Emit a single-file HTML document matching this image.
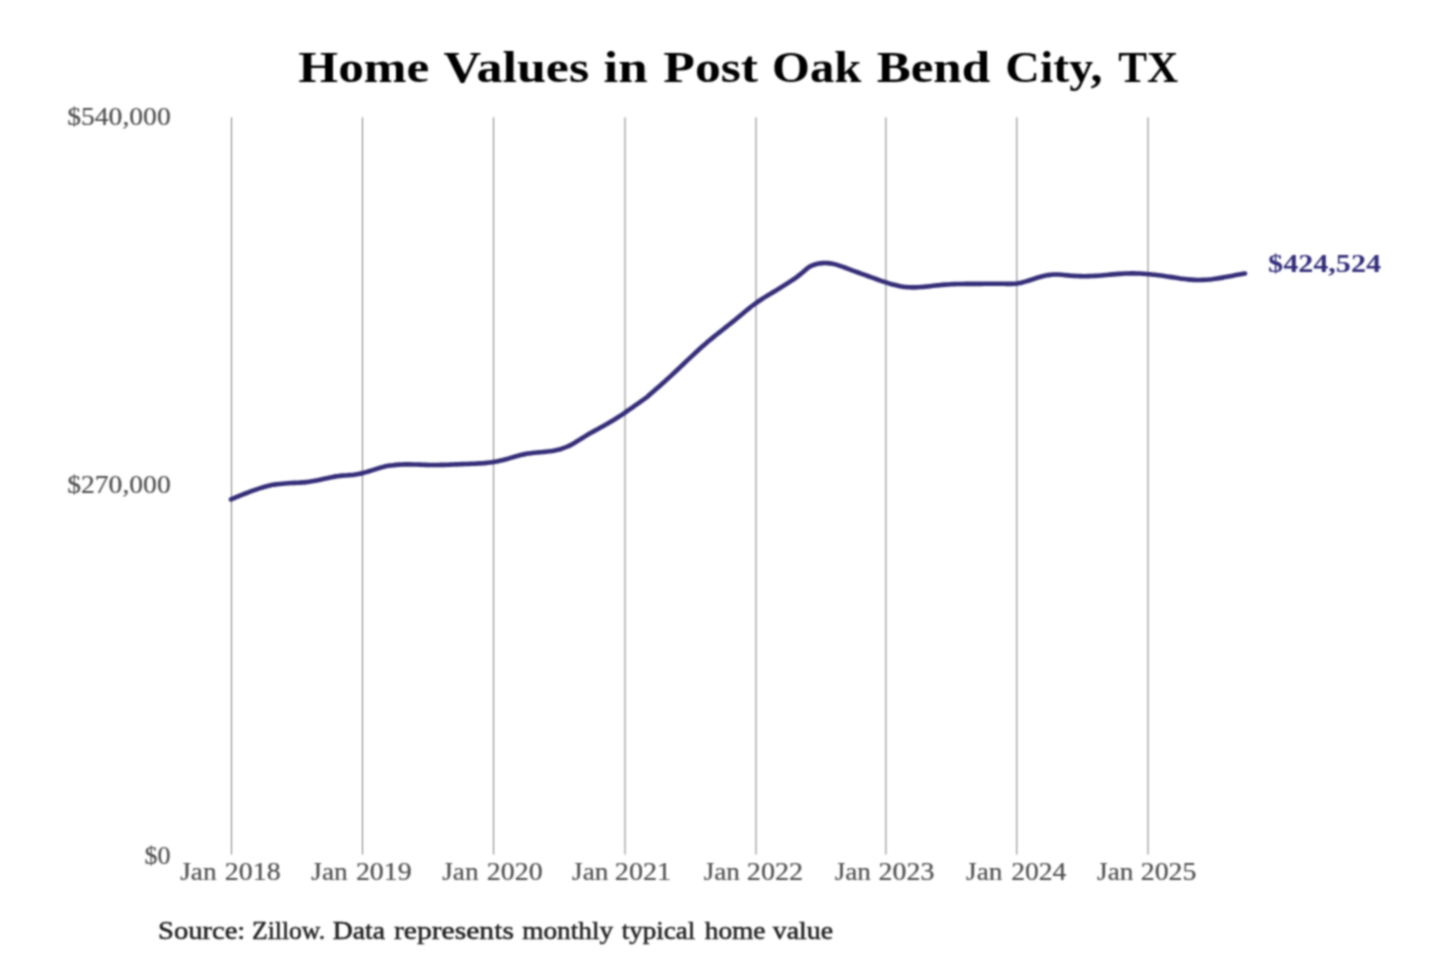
<!DOCTYPE html>
<html><head><meta charset="utf-8"><style>
html,body{margin:0;padding:0;background:#fff;}
body{width:1440px;height:960px;overflow:hidden;}
svg{display:block;font-family:"Liberation Serif",serif;}
</style></head><body>
<svg width="1440" height="960" viewBox="0 0 1440 960">
<defs><filter id="bl" filterUnits="userSpaceOnUse" x="0" y="0" width="1440" height="960" color-interpolation-filters="sRGB"><feConvolveMatrix order="5" kernelMatrix="0.00228 0.01161 0.01997 0.01161 0.00228 0.01161 0.05911 0.10169 0.05911 0.01161 0.01997 0.10169 0.17494 0.10169 0.01997 0.01161 0.05911 0.10169 0.05911 0.01161 0.00228 0.01161 0.01997 0.01161 0.00228" edgeMode="duplicate" preserveAlpha="true"/></filter></defs>
<g filter="url(#bl)">
<rect width="1440" height="960" fill="#fff"/>
<g stroke="#808080" stroke-width="1.0">
<line x1="231.5" y1="117.3" x2="231.5" y2="854.6"/>
<line x1="362.5" y1="117.3" x2="362.5" y2="854.6"/>
<line x1="493.6" y1="117.3" x2="493.6" y2="854.6"/>
<line x1="625.0" y1="117.3" x2="625.0" y2="854.6"/>
<line x1="756.0" y1="117.3" x2="756.0" y2="854.6"/>
<line x1="885.9" y1="117.3" x2="885.9" y2="854.6"/>
<line x1="1016.8" y1="117.3" x2="1016.8" y2="854.6"/>
<line x1="1148.0" y1="117.3" x2="1148.0" y2="854.6"/>
</g>
<path d="M231.00,499.32 C231.50,499.12 233.00,498.51 234.00,498.11 C235.00,497.71 236.00,497.30 237.00,496.89 C238.00,496.48 239.00,496.07 240.00,495.66 C241.00,495.25 242.00,494.85 243.00,494.45 C244.00,494.05 245.00,493.65 246.00,493.25 C247.00,492.85 248.00,492.45 249.00,492.07 C250.00,491.69 251.00,491.31 252.00,490.94 C253.00,490.57 254.00,490.20 255.00,489.85 C256.00,489.50 257.00,489.15 258.00,488.82 C259.00,488.49 260.00,488.17 261.00,487.86 C262.00,487.55 263.00,487.25 264.00,486.97 C265.00,486.69 266.00,486.42 267.00,486.17 C268.00,485.92 269.00,485.68 270.00,485.46 C271.00,485.24 272.00,485.04 273.00,484.86 C274.00,484.68 275.00,484.52 276.00,484.38 C277.00,484.24 278.00,484.11 279.00,483.99 C280.00,483.87 281.00,483.77 282.00,483.68 C283.00,483.59 284.00,483.50 285.00,483.43 C286.00,483.36 287.00,483.30 288.00,483.24 C289.00,483.18 290.00,483.12 291.00,483.07 C292.00,483.02 293.00,482.97 294.00,482.92 C295.00,482.87 296.00,482.81 297.00,482.76 C298.00,482.70 299.00,482.65 300.00,482.59 C301.00,482.52 302.00,482.45 303.00,482.37 C304.00,482.29 305.00,482.20 306.00,482.10 C307.00,482.00 308.00,481.89 309.00,481.76 C310.00,481.63 311.00,481.49 312.00,481.33 C313.00,481.17 314.00,480.99 315.00,480.80 C316.00,480.61 317.00,480.40 318.00,480.19 C319.00,479.98 320.00,479.75 321.00,479.53 C322.00,479.30 323.00,479.07 324.00,478.84 C325.00,478.61 326.00,478.38 327.00,478.16 C328.00,477.94 329.00,477.71 330.00,477.50 C331.00,477.29 332.00,477.08 333.00,476.89 C334.00,476.70 335.00,476.52 336.00,476.37 C337.00,476.22 338.00,476.08 339.00,475.96 C340.00,475.84 341.00,475.75 342.00,475.66 C343.00,475.57 344.00,475.50 345.00,475.42 C346.00,475.34 347.00,475.27 348.00,475.20 C349.00,475.12 350.00,475.06 351.00,474.97 C352.00,474.88 353.00,474.79 354.00,474.67 C355.00,474.55 356.00,474.41 357.00,474.25 C358.00,474.09 359.00,473.90 360.00,473.69 C361.00,473.48 362.00,473.24 363.00,472.98 C364.00,472.72 365.00,472.44 366.00,472.15 C367.00,471.86 368.00,471.56 369.00,471.25 C370.00,470.94 371.00,470.62 372.00,470.30 C373.00,469.98 374.00,469.67 375.00,469.35 C376.00,469.04 377.00,468.71 378.00,468.41 C379.00,468.11 380.00,467.82 381.00,467.54 C382.00,467.26 383.00,467.00 384.00,466.76 C385.00,466.52 386.00,466.31 387.00,466.11 C388.00,465.91 389.00,465.74 390.00,465.58 C391.00,465.42 392.00,465.28 393.00,465.16 C394.00,465.04 395.00,464.94 396.00,464.85 C397.00,464.76 398.00,464.68 399.00,464.62 C400.00,464.56 401.00,464.52 402.00,464.48 C403.00,464.44 404.00,464.42 405.00,464.40 C406.00,464.38 407.00,464.38 408.00,464.38 C409.00,464.38 410.00,464.39 411.00,464.41 C412.00,464.43 413.00,464.46 414.00,464.48 C415.00,464.50 416.00,464.53 417.00,464.56 C418.00,464.59 419.00,464.62 420.00,464.66 C421.00,464.70 422.00,464.74 423.00,464.77 C424.00,464.80 425.00,464.83 426.00,464.86 C427.00,464.89 428.00,464.91 429.00,464.93 C430.00,464.95 431.00,464.96 432.00,464.97 C433.00,464.98 434.00,464.98 435.00,464.98 C436.00,464.98 437.00,464.97 438.00,464.96 C439.00,464.95 440.00,464.93 441.00,464.91 C442.00,464.89 443.00,464.87 444.00,464.84 C445.00,464.81 446.00,464.78 447.00,464.75 C448.00,464.72 449.00,464.68 450.00,464.65 C451.00,464.62 452.00,464.58 453.00,464.54 C454.00,464.50 455.00,464.46 456.00,464.42 C457.00,464.38 458.00,464.33 459.00,464.29 C460.00,464.25 461.00,464.21 462.00,464.17 C463.00,464.13 464.00,464.09 465.00,464.05 C466.00,464.01 467.00,463.97 468.00,463.93 C469.00,463.89 470.00,463.86 471.00,463.82 C472.00,463.78 473.00,463.74 474.00,463.70 C475.00,463.66 476.00,463.61 477.00,463.56 C478.00,463.51 479.00,463.45 480.00,463.39 C481.00,463.33 482.00,463.26 483.00,463.18 C484.00,463.10 485.00,463.01 486.00,462.91 C487.00,462.81 488.00,462.71 489.00,462.59 C490.00,462.47 491.00,462.34 492.00,462.20 C493.00,462.06 494.00,461.90 495.00,461.73 C496.00,461.56 497.00,461.37 498.00,461.16 C499.00,460.96 500.00,460.74 501.00,460.50 C502.00,460.26 503.00,460.00 504.00,459.74 C505.00,459.48 506.00,459.20 507.00,458.92 C508.00,458.64 509.00,458.35 510.00,458.06 C511.00,457.77 512.00,457.48 513.00,457.19 C514.00,456.90 515.00,456.61 516.00,456.33 C517.00,456.05 518.00,455.78 519.00,455.52 C520.00,455.26 521.00,455.01 522.00,454.78 C523.00,454.55 524.00,454.33 525.00,454.13 C526.00,453.93 527.00,453.76 528.00,453.60 C529.00,453.44 530.00,453.31 531.00,453.18 C532.00,453.05 533.00,452.94 534.00,452.83 C535.00,452.72 536.00,452.62 537.00,452.53 C538.00,452.43 539.00,452.35 540.00,452.26 C541.00,452.17 542.00,452.09 543.00,451.99 C544.00,451.89 545.00,451.80 546.00,451.69 C547.00,451.58 548.00,451.47 549.00,451.34 C550.00,451.21 551.00,451.08 552.00,450.92 C553.00,450.76 554.00,450.59 555.00,450.39 C556.00,450.19 557.00,449.97 558.00,449.73 C559.00,449.49 560.00,449.23 561.00,448.93 C562.00,448.63 563.00,448.31 564.00,447.94 C565.00,447.57 566.00,447.18 567.00,446.74 C568.00,446.31 569.00,445.84 570.00,445.33 C571.00,444.82 572.00,444.26 573.00,443.70 C574.00,443.13 575.00,442.54 576.00,441.94 C577.00,441.34 578.00,440.71 579.00,440.09 C580.00,439.47 581.00,438.82 582.00,438.20 C583.00,437.57 584.00,436.95 585.00,436.34 C586.00,435.73 587.00,435.13 588.00,434.54 C589.00,433.95 590.00,433.38 591.00,432.81 C592.00,432.24 593.00,431.69 594.00,431.13 C595.00,430.57 596.00,430.02 597.00,429.47 C598.00,428.92 599.00,428.38 600.00,427.83 C601.00,427.28 602.00,426.73 603.00,426.18 C604.00,425.63 605.00,425.07 606.00,424.51 C607.00,423.95 608.00,423.38 609.00,422.80 C610.00,422.22 611.00,421.63 612.00,421.03 C613.00,420.43 614.00,419.81 615.00,419.19 C616.00,418.56 617.00,417.93 618.00,417.28 C619.00,416.63 620.00,415.98 621.00,415.31 C622.00,414.64 623.00,413.96 624.00,413.28 C625.00,412.60 626.00,411.91 627.00,411.22 C628.00,410.53 629.00,409.83 630.00,409.13 C631.00,408.43 632.00,407.73 633.00,407.03 C634.00,406.33 635.00,405.62 636.00,404.92 C637.00,404.22 638.00,403.52 639.00,402.82 C640.00,402.12 641.00,401.43 642.00,400.72 C643.00,400.01 644.00,399.30 645.00,398.54 C646.00,397.78 647.00,396.99 648.00,396.15 C649.00,395.31 650.00,394.38 651.00,393.51 C652.00,392.63 653.00,391.77 654.00,390.90 C655.00,390.03 656.00,389.17 657.00,388.30 C658.00,387.43 659.00,386.56 660.00,385.68 C661.00,384.80 662.00,383.91 663.00,383.02 C664.00,382.13 665.00,381.23 666.00,380.33 C667.00,379.43 668.00,378.52 669.00,377.60 C670.00,376.69 671.00,375.77 672.00,374.84 C673.00,373.91 674.00,372.98 675.00,372.04 C676.00,371.10 677.00,370.16 678.00,369.22 C679.00,368.28 680.00,367.33 681.00,366.38 C682.00,365.43 683.00,364.49 684.00,363.54 C685.00,362.59 686.00,361.64 687.00,360.70 C688.00,359.75 689.00,358.81 690.00,357.87 C691.00,356.93 692.00,355.99 693.00,355.06 C694.00,354.13 695.00,353.20 696.00,352.28 C697.00,351.36 698.00,350.44 699.00,349.53 C700.00,348.62 701.00,347.72 702.00,346.83 C703.00,345.94 704.00,345.06 705.00,344.19 C706.00,343.32 707.00,342.46 708.00,341.61 C709.00,340.76 710.00,339.94 711.00,339.11 C712.00,338.28 713.00,337.46 714.00,336.65 C715.00,335.84 716.00,335.05 717.00,334.25 C718.00,333.45 719.00,332.66 720.00,331.87 C721.00,331.08 722.00,330.30 723.00,329.51 C724.00,328.72 725.00,327.93 726.00,327.14 C727.00,326.35 728.00,325.56 729.00,324.77 C730.00,323.97 731.00,323.18 732.00,322.37 C733.00,321.56 734.00,320.75 735.00,319.93 C736.00,319.11 737.00,318.27 738.00,317.44 C739.00,316.61 740.00,315.77 741.00,314.94 C742.00,314.11 743.00,313.28 744.00,312.45 C745.00,311.62 746.00,310.79 747.00,309.98 C748.00,309.17 749.00,308.37 750.00,307.58 C751.00,306.79 752.00,306.02 753.00,305.27 C754.00,304.52 755.00,303.77 756.00,303.06 C757.00,302.35 758.00,301.66 759.00,300.99 C760.00,300.32 761.00,299.66 762.00,299.02 C763.00,298.38 764.00,297.76 765.00,297.14 C766.00,296.52 767.00,295.91 768.00,295.30 C769.00,294.69 770.00,294.10 771.00,293.49 C772.00,292.88 773.00,292.28 774.00,291.67 C775.00,291.06 776.00,290.45 777.00,289.84 C778.00,289.23 779.00,288.62 780.00,288.00 C781.00,287.38 782.00,286.76 783.00,286.14 C784.00,285.52 785.00,284.90 786.00,284.27 C787.00,283.64 788.00,283.01 789.00,282.36 C790.00,281.71 791.00,281.06 792.00,280.38 C793.00,279.70 794.00,279.02 795.00,278.31 C796.00,277.60 797.00,276.86 798.00,276.10 C799.00,275.34 800.00,274.56 801.00,273.74 C802.00,272.92 803.00,272.06 804.00,271.20 C805.00,270.34 806.00,269.36 807.00,268.58 C808.00,267.80 809.00,267.11 810.00,266.54 C811.00,265.97 812.00,265.56 813.00,265.17 C814.00,264.78 815.00,264.48 816.00,264.20 C817.00,263.92 818.00,263.69 819.00,263.51 C820.00,263.33 821.00,263.20 822.00,263.11 C823.00,263.02 824.00,262.98 825.00,262.98 C826.00,262.98 827.00,263.03 828.00,263.12 C829.00,263.21 830.00,263.34 831.00,263.51 C832.00,263.68 833.00,263.89 834.00,264.12 C835.00,264.35 836.00,264.62 837.00,264.91 C838.00,265.20 839.00,265.52 840.00,265.85 C841.00,266.18 842.00,266.53 843.00,266.89 C844.00,267.25 845.00,267.62 846.00,268.00 C847.00,268.38 848.00,268.77 849.00,269.15 C850.00,269.53 851.00,269.91 852.00,270.28 C853.00,270.65 854.00,271.02 855.00,271.39 C856.00,271.76 857.00,272.12 858.00,272.48 C859.00,272.84 860.00,273.20 861.00,273.56 C862.00,273.92 863.00,274.28 864.00,274.64 C865.00,275.00 866.00,275.35 867.00,275.71 C868.00,276.07 869.00,276.44 870.00,276.80 C871.00,277.16 872.00,277.52 873.00,277.89 C874.00,278.25 875.00,278.63 876.00,278.99 C877.00,279.35 878.00,279.71 879.00,280.07 C880.00,280.43 881.00,280.78 882.00,281.13 C883.00,281.48 884.00,281.82 885.00,282.15 C886.00,282.48 887.00,282.81 888.00,283.12 C889.00,283.43 890.00,283.73 891.00,284.02 C892.00,284.31 893.00,284.58 894.00,284.84 C895.00,285.10 896.00,285.34 897.00,285.57 C898.00,285.80 899.00,286.00 900.00,286.19 C901.00,286.38 902.00,286.55 903.00,286.69 C904.00,286.83 905.00,286.96 906.00,287.06 C907.00,287.16 908.00,287.24 909.00,287.29 C910.00,287.35 911.00,287.38 912.00,287.39 C913.00,287.40 914.00,287.40 915.00,287.38 C916.00,287.36 917.00,287.32 918.00,287.27 C919.00,287.22 920.00,287.15 921.00,287.08 C922.00,287.00 923.00,286.91 924.00,286.82 C925.00,286.73 926.00,286.62 927.00,286.52 C928.00,286.41 929.00,286.30 930.00,286.19 C931.00,286.08 932.00,285.95 933.00,285.84 C934.00,285.72 935.00,285.61 936.00,285.50 C937.00,285.39 938.00,285.27 939.00,285.17 C940.00,285.07 941.00,284.97 942.00,284.88 C943.00,284.79 944.00,284.70 945.00,284.63 C946.00,284.56 947.00,284.49 948.00,284.43 C949.00,284.37 950.00,284.32 951.00,284.27 C952.00,284.22 953.00,284.18 954.00,284.15 C955.00,284.12 956.00,284.09 957.00,284.06 C958.00,284.03 959.00,284.01 960.00,283.99 C961.00,283.97 962.00,283.96 963.00,283.95 C964.00,283.94 965.00,283.93 966.00,283.92 C967.00,283.91 968.00,283.91 969.00,283.90 C970.00,283.89 971.00,283.88 972.00,283.88 C973.00,283.88 974.00,283.88 975.00,283.87 C976.00,283.87 977.00,283.86 978.00,283.85 C979.00,283.84 980.00,283.84 981.00,283.83 C982.00,283.82 983.00,283.81 984.00,283.80 C985.00,283.79 986.00,283.77 987.00,283.76 C988.00,283.75 989.00,283.75 990.00,283.74 C991.00,283.73 992.00,283.73 993.00,283.72 C994.00,283.72 995.00,283.71 996.00,283.71 C997.00,283.71 998.00,283.71 999.00,283.72 C1000.00,283.73 1001.00,283.74 1002.00,283.76 C1003.00,283.78 1004.00,283.80 1005.00,283.82 C1006.00,283.84 1007.00,283.87 1008.00,283.88 C1009.00,283.89 1010.00,283.91 1011.00,283.89 C1012.00,283.87 1013.00,283.85 1014.00,283.78 C1015.00,283.71 1016.00,283.61 1017.00,283.47 C1018.00,283.33 1019.00,283.14 1020.00,282.94 C1021.00,282.74 1022.00,282.50 1023.00,282.24 C1024.00,281.99 1025.00,281.70 1026.00,281.41 C1027.00,281.12 1028.00,280.80 1029.00,280.48 C1030.00,280.16 1031.00,279.83 1032.00,279.50 C1033.00,279.17 1034.00,278.84 1035.00,278.52 C1036.00,278.20 1037.00,277.87 1038.00,277.57 C1039.00,277.27 1040.00,276.97 1041.00,276.70 C1042.00,276.43 1043.00,276.18 1044.00,275.95 C1045.00,275.72 1046.00,275.50 1047.00,275.32 C1048.00,275.14 1049.00,274.98 1050.00,274.85 C1051.00,274.72 1052.00,274.63 1053.00,274.56 C1054.00,274.49 1055.00,274.45 1056.00,274.45 C1057.00,274.45 1058.00,274.48 1059.00,274.54 C1060.00,274.60 1061.00,274.70 1062.00,274.79 C1063.00,274.88 1064.00,275.01 1065.00,275.11 C1066.00,275.21 1067.00,275.32 1068.00,275.41 C1069.00,275.50 1070.00,275.59 1071.00,275.67 C1072.00,275.75 1073.00,275.81 1074.00,275.87 C1075.00,275.93 1076.00,275.99 1077.00,276.03 C1078.00,276.07 1079.00,276.11 1080.00,276.13 C1081.00,276.15 1082.00,276.17 1083.00,276.18 C1084.00,276.19 1085.00,276.20 1086.00,276.19 C1087.00,276.18 1088.00,276.17 1089.00,276.14 C1090.00,276.11 1091.00,276.07 1092.00,276.03 C1093.00,275.99 1094.00,275.94 1095.00,275.88 C1096.00,275.82 1097.00,275.76 1098.00,275.69 C1099.00,275.62 1100.00,275.54 1101.00,275.46 C1102.00,275.38 1103.00,275.29 1104.00,275.20 C1105.00,275.11 1106.00,275.03 1107.00,274.94 C1108.00,274.85 1109.00,274.75 1110.00,274.66 C1111.00,274.57 1112.00,274.48 1113.00,274.39 C1114.00,274.30 1115.00,274.22 1116.00,274.14 C1117.00,274.06 1118.00,273.98 1119.00,273.91 C1120.00,273.84 1121.00,273.76 1122.00,273.70 C1123.00,273.64 1124.00,273.58 1125.00,273.54 C1126.00,273.50 1127.00,273.47 1128.00,273.44 C1129.00,273.41 1130.00,273.40 1131.00,273.39 C1132.00,273.38 1133.00,273.38 1134.00,273.39 C1135.00,273.40 1136.00,273.42 1137.00,273.45 C1138.00,273.48 1139.00,273.52 1140.00,273.57 C1141.00,273.62 1142.00,273.67 1143.00,273.73 C1144.00,273.79 1145.00,273.86 1146.00,273.94 C1147.00,274.02 1148.00,274.10 1149.00,274.19 C1150.00,274.28 1151.00,274.38 1152.00,274.48 C1153.00,274.58 1154.00,274.69 1155.00,274.81 C1156.00,274.93 1157.00,275.05 1158.00,275.17 C1159.00,275.30 1160.00,275.42 1161.00,275.56 C1162.00,275.70 1163.00,275.85 1164.00,275.99 C1165.00,276.13 1166.00,276.28 1167.00,276.43 C1168.00,276.58 1169.00,276.74 1170.00,276.89 C1171.00,277.04 1172.00,277.21 1173.00,277.36 C1174.00,277.51 1175.00,277.67 1176.00,277.82 C1177.00,277.97 1178.00,278.12 1179.00,278.26 C1180.00,278.40 1181.00,278.55 1182.00,278.68 C1183.00,278.81 1184.00,278.94 1185.00,279.06 C1186.00,279.18 1187.00,279.29 1188.00,279.39 C1189.00,279.49 1190.00,279.58 1191.00,279.66 C1192.00,279.74 1193.00,279.80 1194.00,279.85 C1195.00,279.90 1196.00,279.95 1197.00,279.97 C1198.00,280.00 1199.00,280.01 1200.00,280.00 C1201.00,279.99 1202.00,279.96 1203.00,279.92 C1204.00,279.88 1205.00,279.83 1206.00,279.76 C1207.00,279.69 1208.00,279.61 1209.00,279.51 C1210.00,279.41 1211.00,279.31 1212.00,279.19 C1213.00,279.07 1214.00,278.94 1215.00,278.80 C1216.00,278.66 1217.00,278.51 1218.00,278.36 C1219.00,278.21 1220.00,278.04 1221.00,277.87 C1222.00,277.70 1223.00,277.52 1224.00,277.34 C1225.00,277.16 1226.00,276.98 1227.00,276.79 C1228.00,276.60 1229.00,276.41 1230.00,276.22 C1231.00,276.03 1232.00,275.84 1233.00,275.65 C1234.00,275.46 1235.00,275.26 1236.00,275.07 C1237.00,274.88 1238.00,274.69 1239.00,274.51 C1240.00,274.33 1241.00,274.15 1242.00,273.97 C1243.00,273.80 1244.50,273.54 1245.00,273.46" fill="none" stroke="#342d78" stroke-width="4.6" stroke-linecap="round" stroke-linejoin="round"/>
<text transform="translate(298.32,81.5) scale(1.1709,1)" font-size="43.8" font-weight="bold" fill="#000">Home</text>
<text transform="translate(443.61,81.5) scale(1.1884,1)" font-size="43.8" font-weight="bold" fill="#000">Values</text>
<text transform="translate(603.49,81.5) scale(1.2086,1)" font-size="43.8" font-weight="bold" fill="#000">in</text>
<text transform="translate(663.32,81.5) scale(1.1799,1)" font-size="43.8" font-weight="bold" fill="#000">Post</text>
<text transform="translate(771.97,81.5) scale(1.1131,1)" font-size="43.8" font-weight="bold" fill="#000">Oak</text>
<text transform="translate(876.63,81.5) scale(1.1657,1)" font-size="43.8" font-weight="bold" fill="#000">Bend</text>
<text transform="translate(1005.31,81.5) scale(1.0944,1)" font-size="43.8" font-weight="bold" fill="#000">City,</text>
<text transform="translate(1118.21,81.5) scale(0.9841,1)" font-size="43.8" font-weight="bold" fill="#000">TX</text>
<text transform="translate(158.01,939.0) scale(1.1297,1)" font-size="25.3" fill="#1e1e1e" stroke="#1e1e1e" stroke-width="0.5">Source:</text>
<text transform="translate(251.99,939.0) scale(1.0136,1)" font-size="25.3" fill="#1e1e1e" stroke="#1e1e1e" stroke-width="0.5">Zillow.</text>
<text transform="translate(332.75,939.0) scale(1.0942,1)" font-size="25.3" fill="#1e1e1e" stroke="#1e1e1e" stroke-width="0.5">Data</text>
<text transform="translate(393.91,939.0) scale(1.1705,1)" font-size="25.3" fill="#1e1e1e" stroke="#1e1e1e" stroke-width="0.5">represents</text>
<text transform="translate(522.23,939.0) scale(1.0777,1)" font-size="25.3" fill="#1e1e1e" stroke="#1e1e1e" stroke-width="0.5">monthly</text>
<text transform="translate(621.70,939.0) scale(1.0705,1)" font-size="25.3" fill="#1e1e1e" stroke="#1e1e1e" stroke-width="0.5">typical</text>
<text transform="translate(704.70,939.0) scale(1.0816,1)" font-size="25.3" fill="#1e1e1e" stroke="#1e1e1e" stroke-width="0.5">home</text>
<text transform="translate(772.78,939.0) scale(1.1009,1)" font-size="25.3" fill="#1e1e1e" stroke="#1e1e1e" stroke-width="0.5">value</text>
<text transform="translate(180.27,879.8) scale(1.0643,1)" font-size="25.6" fill="#4d4d4d" stroke="#4d4d4d" stroke-width="0.2">Jan</text>
<text transform="translate(224.82,879.8) scale(1.0900,1)" font-size="25.6" fill="#4d4d4d" stroke="#4d4d4d" stroke-width="0.2">2018</text>
<text transform="translate(311.37,879.8) scale(1.0643,1)" font-size="25.6" fill="#4d4d4d" stroke="#4d4d4d" stroke-width="0.2">Jan</text>
<text transform="translate(355.92,879.8) scale(1.0900,1)" font-size="25.6" fill="#4d4d4d" stroke="#4d4d4d" stroke-width="0.2">2019</text>
<text transform="translate(442.27,879.8) scale(1.0643,1)" font-size="25.6" fill="#4d4d4d" stroke="#4d4d4d" stroke-width="0.2">Jan</text>
<text transform="translate(486.82,879.8) scale(1.0900,1)" font-size="25.6" fill="#4d4d4d" stroke="#4d4d4d" stroke-width="0.2">2020</text>
<text transform="translate(572.07,879.8) scale(1.0643,1)" font-size="25.6" fill="#4d4d4d" stroke="#4d4d4d" stroke-width="0.2">Jan</text>
<text transform="translate(614.81,879.8) scale(1.1011,1)" font-size="25.6" fill="#4d4d4d" stroke="#4d4d4d" stroke-width="0.2">2021</text>
<text transform="translate(703.67,879.8) scale(1.0643,1)" font-size="25.6" fill="#4d4d4d" stroke="#4d4d4d" stroke-width="0.2">Jan</text>
<text transform="translate(746.81,879.8) scale(1.1011,1)" font-size="25.6" fill="#4d4d4d" stroke="#4d4d4d" stroke-width="0.2">2022</text>
<text transform="translate(834.67,879.8) scale(1.0643,1)" font-size="25.6" fill="#4d4d4d" stroke="#4d4d4d" stroke-width="0.2">Jan</text>
<text transform="translate(878.62,879.8) scale(1.0900,1)" font-size="25.6" fill="#4d4d4d" stroke="#4d4d4d" stroke-width="0.2">2023</text>
<text transform="translate(966.07,879.8) scale(1.0643,1)" font-size="25.6" fill="#4d4d4d" stroke="#4d4d4d" stroke-width="0.2">Jan</text>
<text transform="translate(1011.13,879.8) scale(1.0791,1)" font-size="25.6" fill="#4d4d4d" stroke="#4d4d4d" stroke-width="0.2">2024</text>
<text transform="translate(1097.07,879.8) scale(1.0643,1)" font-size="25.6" fill="#4d4d4d" stroke="#4d4d4d" stroke-width="0.2">Jan</text>
<text transform="translate(1140.72,879.8) scale(1.0900,1)" font-size="25.6" fill="#4d4d4d" stroke="#4d4d4d" stroke-width="0.2">2025</text>
<text transform="translate(67.23,124.9) scale(1.0786,1)" font-size="25.6" fill="#4d4d4d" stroke="#4d4d4d" stroke-width="0.2">$540,000</text>
<text transform="translate(67.23,492.9) scale(1.0786,1)" font-size="25.6" fill="#4d4d4d" stroke="#4d4d4d" stroke-width="0.2">$270,000</text>
<text transform="translate(144.58,863.7) scale(1.0188,1)" font-size="25.6" fill="#4d4d4d" stroke="#4d4d4d" stroke-width="0.2">$0</text>
<text transform="translate(1268.12,271.6) scale(1.1675,1)" font-size="25.8" font-weight="bold" fill="#322c7a">$424,524</text>
</g>
</svg>
</body></html>
